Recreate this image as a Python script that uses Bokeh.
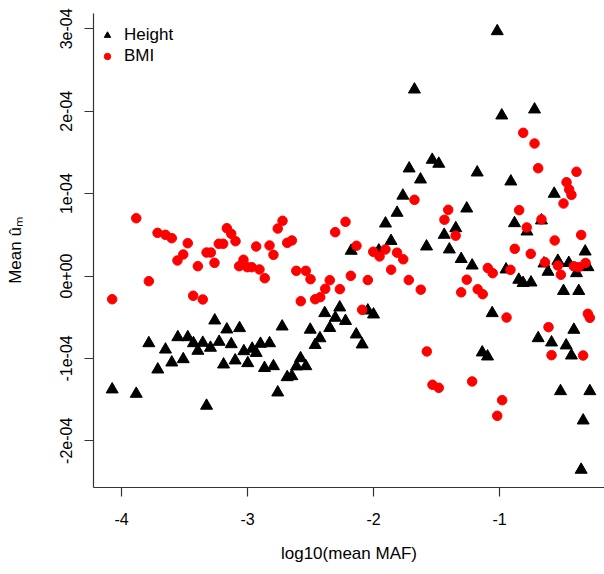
from bokeh.plotting import figure
from bokeh.models import FixedTicker, Range1d, Legend, LegendItem
from bokeh.embed import file_html
from bokeh.resources import INLINE
import numpy as np

# log10(mean MAF) and mean u-hat (in units of 1e-4)
height_x = [-4.074, -3.883, -3.325, -3.783, -3.651, -3.712, -3.601, -3.510, -3.553, -3.474,
            -3.429, -3.355, -3.394, -3.294, -3.260, -3.225, -3.164, -3.063, -3.129, -3.190,
            -3.098, -2.998, -3.029, -2.963, -2.931, -2.897, -2.825, -2.865, -2.794, -2.725,
            -2.760, -2.685, -2.648, -2.579, -2.611, -2.537, -2.502, -2.425, -2.463, -2.387,
            -2.347, -2.303, -2.268, -2.222, -2.137, -2.090, -2.045, -2.000, -2.177, -1.958,
            -1.905, -1.861, -1.813, -1.767, -1.717, -1.675, -1.627, -1.534, -1.482, -1.579,
            -1.439, -1.398, -1.347, -1.304, -1.260, -1.217, -1.177, -1.137, -1.095, -1.058,
            -1.018, -0.982, -0.948, -0.910, -0.881, -0.847, -0.813, -0.750, -0.782, -0.722,
            -0.693, -0.667, -0.647, -0.615, -0.587, -0.566, -0.537, -0.516, -0.492, -0.471,
            -0.450, -0.429, -0.410, -0.389, -0.371, -0.352, -0.336, -0.320, -0.298, -0.283]
height_y = [-1.377, -1.430, -1.575, -0.816, -0.893, -1.135, -1.050, -1.010, -0.743, -0.743,
            -0.816, -0.811, -0.908, -0.871, -0.540, -0.799, -0.649, -0.633, -0.828, -1.074,
            -1.025, -1.058, -0.913, -0.883, -0.934, -0.823, -0.816, -1.117, -1.095, -0.613,
            -1.414, -1.228, -1.216, -0.998, -1.098, -1.095, -0.652, -0.756, -0.837, -0.451,
            -0.631, -0.507, -0.382, -0.546, -0.710, -0.831, -0.419, -0.467, 0.306, 0.309,
            0.637, 0.425, 0.767, 0.975, 1.305, 2.263, 1.171, 1.410, 1.362, 0.358,
            0.500, 0.322, 0.580, 0.206, 0.819, 0.127, 1.256, -0.928, -0.977, -0.451,
            2.971, 1.948, 0.079, 1.147, 0.641, -0.046, -0.085, -0.079, 0.540, 2.021,
            -0.755, 0.674, 0.152, 0.051, -0.807, 0.998, 0.184, -1.398, -0.182, -0.843,
            0.158, -0.965, -0.653, 0.034, -0.182, -2.352, -1.754, 0.297, 0.107, -1.398]

bmi_x = [-4.074, -3.883, -3.783, -3.714, -3.651, -3.601, -3.556, -3.510, -3.474, -3.431,
         -3.394, -3.355, -3.325, -3.291, -3.262, -3.228, -3.193, -3.164, -3.129, -3.095,
         -3.066, -3.032, -3.002, -2.966, -2.931, -2.905, -2.863, -2.825, -2.794, -2.760,
         -2.722, -2.685, -2.648, -2.613, -2.577, -2.537, -2.500, -2.463, -2.423, -2.383,
         -2.347, -2.304, -2.267, -2.222, -2.180, -2.135, -2.090, -2.045, -2.002, -1.952,
         -1.905, -1.860, -1.813, -1.764, -1.720, -1.675, -1.625, -1.577, -1.532, -1.482,
         -1.437, -1.407, -1.348, -1.304, -1.260, -1.217, -1.173, -1.133, -1.093, -1.054,
         -1.018, -0.979, -0.944, -0.913, -0.879, -0.844, -0.812, -0.784, -0.752, -0.722,
         -0.693, -0.667, -0.639, -0.611, -0.587, -0.562, -0.537, -0.513, -0.492, -0.468,
         -0.447, -0.429, -0.410, -0.389, -0.371, -0.352, -0.336, -0.317, -0.299, -0.283]
bmi_y = [-0.282, 0.701, -0.063, 0.524, 0.500, 0.459, 0.188, 0.261, 0.398, -0.240,
         0.119, -0.285, 0.285, 0.285, 0.160, 0.391, 0.391, 0.580, 0.512, 0.422,
         0.119, 0.197, 0.107, 0.107, 0.358, 0.079, -0.027, 0.370, 0.257, 0.576,
         0.670, 0.403, 0.431, 0.063, -0.306, 0.063, -0.039, -0.282, -0.257, -0.155,
         -0.051, 0.532, -0.160, 0.658, 0.002, 0.367, -0.410, -0.049, 0.294, 0.237,
         0.322, 0.076, 0.283, 0.203, -0.049, 0.925, -0.166, -0.916, -1.320, -1.357,
         0.683, 0.803, 0.489, -0.198, -0.045, -1.280, -0.161, -0.221, 0.097, 0.034,
         -1.697, -1.507, -0.504, 0.075, 0.330, 0.799, 1.738, 0.589, 0.269, 1.608,
         1.308, 0.686, 0.167, -0.621, -0.961, 0.431, 0.127, 0.015, 0.880, 1.138,
         1.050, 0.985, 0.118, 1.265, 0.107, 0.498, -0.965, 0.158, -0.459, -0.507]

x_ticks = [-4, -3, -2, -1]
x_tick_labels = ["-4", "-3", "-2", "-1"]
y_ticks = [-2e-4, -1e-4, 0.0, 1e-4, 2e-4, 3e-4]
y_tick_labels = ["-2e-04", "-1e-04", "0e+00", "1e-04", "2e-04", "3e-04"]

FONT = "Liberation Sans"

p = figure(width=604, height=574, output_backend="svg", toolbar_location=None,
           x_range=Range1d(-4.2222, -0.1667), y_range=Range1d(-2.567e-4, 3.186e-4),
           min_border_left=93, min_border_right=0, min_border_top=13, min_border_bottom=87)
p.outline_line_color = None
p.xgrid.visible = False
p.ygrid.visible = False
p.background_fill_color = "white"
p.border_fill_color = "white"

h = p.scatter(height_x, np.array(height_y) * 1e-4, marker="triangle", size=12,
              fill_color="black", line_color="black")
b = p.scatter(bmi_x, np.array(bmi_y) * 1e-4, marker="circle", size=9.5,
              fill_color="red", line_color="red")

p.xaxis.ticker = FixedTicker(ticks=x_ticks)
p.xaxis.major_label_overrides = {t: l for t, l in zip(x_ticks, x_tick_labels)}
p.yaxis.ticker = FixedTicker(ticks=y_ticks)
p.yaxis.major_label_overrides = {t: l for t, l in zip(y_ticks, y_tick_labels)}
p.yaxis.major_label_orientation = "vertical"

for ax in (p.xaxis[0], p.yaxis[0]):
    ax.axis_line_color = "#333333"
    ax.axis_line_width = 1.2
    ax.major_tick_line_color = "#333333"
    ax.major_tick_line_width = 1.2
    ax.major_tick_out = 9
    ax.major_tick_in = 0
    ax.minor_tick_out = 0
    ax.minor_tick_in = 0
    ax.major_label_text_font = FONT
    ax.major_label_text_font_size = "16px"
    ax.major_label_text_color = "black"
    ax.axis_label_text_font = FONT
    ax.axis_label_text_font_size = "17px"
    ax.axis_label_text_font_style = "normal"
    ax.axis_label_text_color = "black"

p.xaxis.axis_label = "log10(mean MAF)"
p.xaxis.major_label_standoff = 16
p.xaxis.axis_label_standoff = 16
p.yaxis.axis_label = "Mean \u00fb\u2098"
p.yaxis.major_label_standoff = 12
p.yaxis.axis_label_standoff = 33

legend = Legend(items=[LegendItem(label="Height", renderers=[h]),
                       LegendItem(label="BMI", renderers=[b])],
                location=(6, 421))
legend.background_fill_alpha = 0
legend.border_line_color = None
legend.label_text_font = FONT
legend.label_text_font_size = "17px"
legend.label_text_color = "black"
legend.glyph_width = 16
legend.glyph_height = 20
legend.label_height = 20
legend.label_standoff = 9
legend.spacing = 1
legend.margin = 0
legend.padding = 4
p.add_layout(legend)

open("out.html", "w").write(file_html(p, INLINE))
